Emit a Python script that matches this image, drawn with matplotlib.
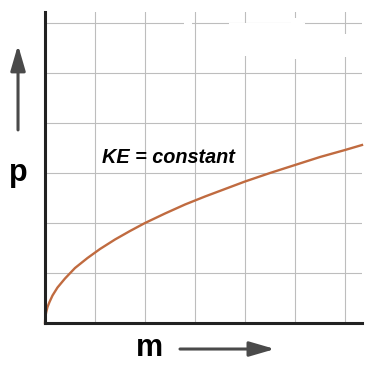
import matplotlib
matplotlib.use('Agg')
import matplotlib.pyplot as plt
import matplotlib.patches as patches

# momentum vs mass at constant kinetic energy
mass = [0, 0.003, 0.01, 0.025, 0.05, 0.09, 0.15, 0.25, 0.4, 0.6, 0.85, 1.1, 1.4, 1.7, 2.0,
        2.4, 2.8, 3.2, 3.6, 4.0, 4.5, 5.0, 5.5, 6.0, 6.34]
momentum = [0, 0.08, 0.14, 0.22, 0.32, 0.42, 0.55, 0.71, 0.89, 1.1, 1.3, 1.48, 1.67, 1.84, 2.0,
            2.19, 2.37, 2.53, 2.68, 2.83, 3.0, 3.16, 3.32, 3.46, 3.56]
grid_x = [1, 2, 3, 4, 5, 6]
grid_y = [1, 2, 3, 4, 5, 6]
curve_label = 'KE = constant'
x_label = 'm'
y_label = 'p'

plt.rcParams['font.family'] = ['Liberation Sans', 'DejaVu Sans']

fig = plt.figure(figsize=(3.85, 3.66), dpi=100)
ax = fig.add_axes([0.1169, 0.1175, 0.8234, 0.8497])
ax.set_xlim(0, 6.34)
ax.set_ylim(0, 6.22)

for gx in grid_x:
    ax.axvline(gx, color='#bdbdbd', linewidth=0.8, zorder=1)
for gy in grid_y:
    ax.axhline(gy, color='#bdbdbd', linewidth=0.8, zorder=1)

# faded patch near the top right
for (x0, y0, w, h) in [(0.58, 0.86, 0.24, 0.105), (0.775, 0.85, 0.04, 0.13),
                       (0.935, 0.855, 0.03, 0.075), (0.44, 0.945, 0.025, 0.025)]:
    ax.add_patch(patches.Rectangle((x0, y0), w, h, transform=ax.transAxes,
                                   facecolor='white', edgecolor='none', zorder=2))

ax.plot(mass, momentum, color='#c06b40', linewidth=1.7, zorder=3, clip_on=False,
        solid_joinstyle='round')

ax.text(1.14, 3.2, curve_label, fontsize=14.3, fontweight='bold', fontstyle='italic',
        va='baseline', ha='left', zorder=4)

for side in ['top', 'right']:
    ax.spines[side].set_visible(False)
for side in ['left', 'bottom']:
    ax.spines[side].set_linewidth(2.2)
    ax.spines[side].set_color('#222222')
    ax.spines[side].set_zorder(5)
ax.set_xticks([])
ax.set_yticks([])

arrow_style = dict(arrowstyle='-|>,head_length=1.1,head_width=0.32', color='#4a4a4a',
                   linewidth=2.2, shrinkA=0, shrinkB=0)
fig.add_artist(patches.FancyArrowPatch((0.0468, 0.645), (0.0468, 0.877),
                                       transform=fig.transFigure, mutation_scale=14,
                                       **arrow_style))
fig.add_artist(patches.FancyArrowPatch((0.4675, 0.0464), (0.714, 0.0464),
                                       transform=fig.transFigure, mutation_scale=14,
                                       **arrow_style))

fig.text(0.0468, 0.527, y_label, fontsize=22, fontweight='bold', ha='center', va='center')
fig.text(0.387, 0.050, x_label, fontsize=22, fontweight='bold', ha='center', va='center')

fig.savefig('out.png', dpi=100)
